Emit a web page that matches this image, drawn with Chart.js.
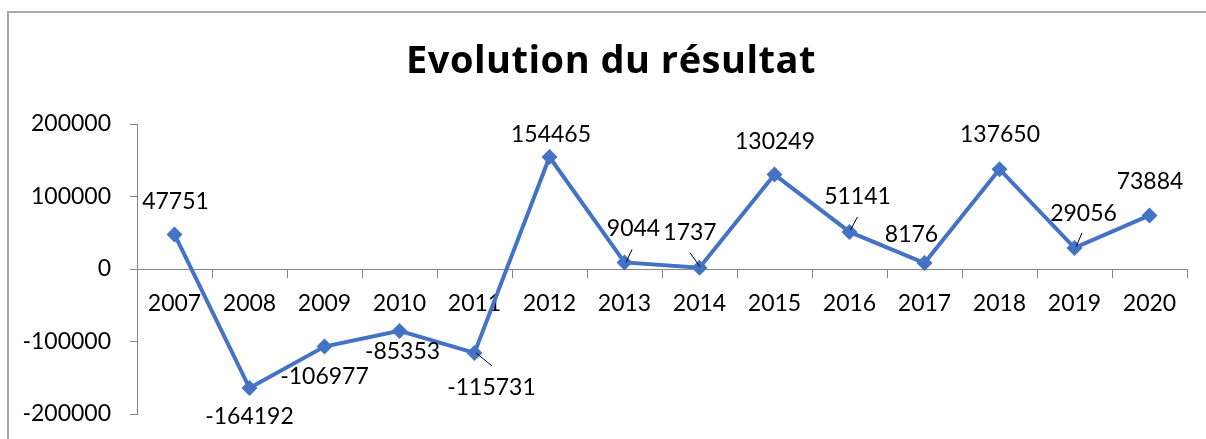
<!DOCTYPE html>
<html>
<head>
<meta charset="utf-8">
<script src="https://cdn.jsdelivr.net/npm/chart.js@4.4.1/dist/chart.umd.min.js"></script>
<style>
  html, body { margin: 0; padding: 0; background: #fff; }
  #wrap { position: relative; width: 1206px; height: 439px; overflow: hidden; }
  #cadre { position: absolute; left: 7px; top: 11px; width: 1300px; height: 460px; border: 2px solid #a8a8a8; }
  canvas { position: absolute; left: 0; top: 0; }
</style>
</head>
<body>
<div id="wrap">
  <div id="cadre"></div>
  <canvas id="resultatChart" width="1206" height="439"></canvas>
</div>
<script>
const annees = ['2007', '2008', '2009', '2010', '2011', '2012', '2013', '2014', '2015', '2016', '2017', '2018', '2019', '2020'];
const resultat = [47751, -164192, -106977, -85353, -115731, 154465, 9044, 1737, 130249, 51141, 8176, 137650, 29056, 73884];
const graduations = [-200000, -100000, 0, 100000, 200000];
const titre = 'Evolution du résultat';

const police = 'Lato, "Open Sans", sans-serif';

// décalage des étiquettes par rapport au point (en px), avec trait de rappel si besoin
const etiquettes = [
    { dx: 1, dy: -33 },
    { dx: 0, dy: 29 },
    { dx: 0, dy: 30 },
    { dx: 3, dy: 21 },
    { dx: 17, dy: 35, trait: [1.5, 0, 17.5, 13] },
    { dx: 1.5, dy: -22 },
    { dx: 9, dy: -34, trait: [1.5, 0, 7.5, -13] },
    { dx: -9.5, dy: -35, trait: [-9.5, -15, 0.5, -1] },
    { dx: 0.5, dy: -33 },
    { dx: 8, dy: -35, trait: [1, -2, 8, -15] },
    { dx: -13, dy: -28 },
    { dx: 0.5, dy: -35 },
    { dx: 9, dy: -34.5, trait: [1.5, -1, 7.5, -15] },
    { dx: 0.5, dy: -34 }
];

const etiquettesPlugin = {
    id: 'etiquettes',
    afterDatasetsDraw(chart) {
        const ctx = chart.ctx;
        const meta = chart.getDatasetMeta(0);
        ctx.save();
        ctx.font = '23px ' + police;
        ctx.fillStyle = '#000';
        ctx.strokeStyle = '#000';
        ctx.lineWidth = 1;
        ctx.textAlign = 'center';
        ctx.textBaseline = 'middle';
        meta.data.forEach((pt, i) => {
            const e = etiquettes[i];
            if (e.trait) {
                ctx.beginPath();
                ctx.moveTo(pt.x + e.trait[0], pt.y + e.trait[1]);
                ctx.lineTo(pt.x + e.trait[2], pt.y + e.trait[3]);
                ctx.stroke();
            }
            ctx.fillText(String(resultat[i]), pt.x + e.dx, pt.y + e.dy);
        });
        // titre
        ctx.font = 'bold 38px "Open Sans", sans-serif';
        ctx.letterSpacing = '0.5px';
        ctx.textBaseline = 'alphabetic';
        ctx.fillText(titre, 611, 72.5);
        ctx.restore();
    }
};

const ctx = document.getElementById('resultatChart');

new Chart(ctx, {
    type: 'line',
    data: {
        labels: annees,
        datasets: [{
            label: 'Résultat',
            data: resultat,
            borderColor: '#4472C4',
            backgroundColor: '#4472C4',
            borderWidth: 4,
            pointStyle: 'rectRot',
            pointRadius: 8,
            pointBorderWidth: 0,
            tension: 0,
            clip: false
        }]
    },
    options: {
        responsive: false,
        animation: false,
        layout: { padding: { left: 0, top: 124, right: 19, bottom: 25 } },
        scales: {
            y: {
                min: -200000,
                max: 200000,
                afterBuildTicks: s => { s.ticks = graduations.map(v => ({ value: v })); },
                afterFit: s => {
                    s.width = 137;
                    s.paddingTop = 0;
                    s.paddingBottom = 0;
                },
                grid: { drawOnChartArea: false, tickLength: 7, color: '#868686' },
                border: { color: '#868686' },
                ticks: {
                    font: { family: police, size: 23 }, color: '#000', padding: 19,
                    callback: v => String(v)
                }
            },
            x: {
                position: { y: 0 },
                offset: true,
                grid: { offset: true, drawOnChartArea: false, tickLength: 8, color: '#868686' },
                border: { color: '#868686' },
                ticks: { font: { family: police, size: 23 }, color: '#000', padding: 13, maxRotation: 0, autoSkip: false }
            }
        },
        plugins: {
            legend: { display: false },
            title: { display: false },
            tooltip: { enabled: false }
        }
    },
    plugins: [etiquettesPlugin]
});
</script>
</body>
</html>
